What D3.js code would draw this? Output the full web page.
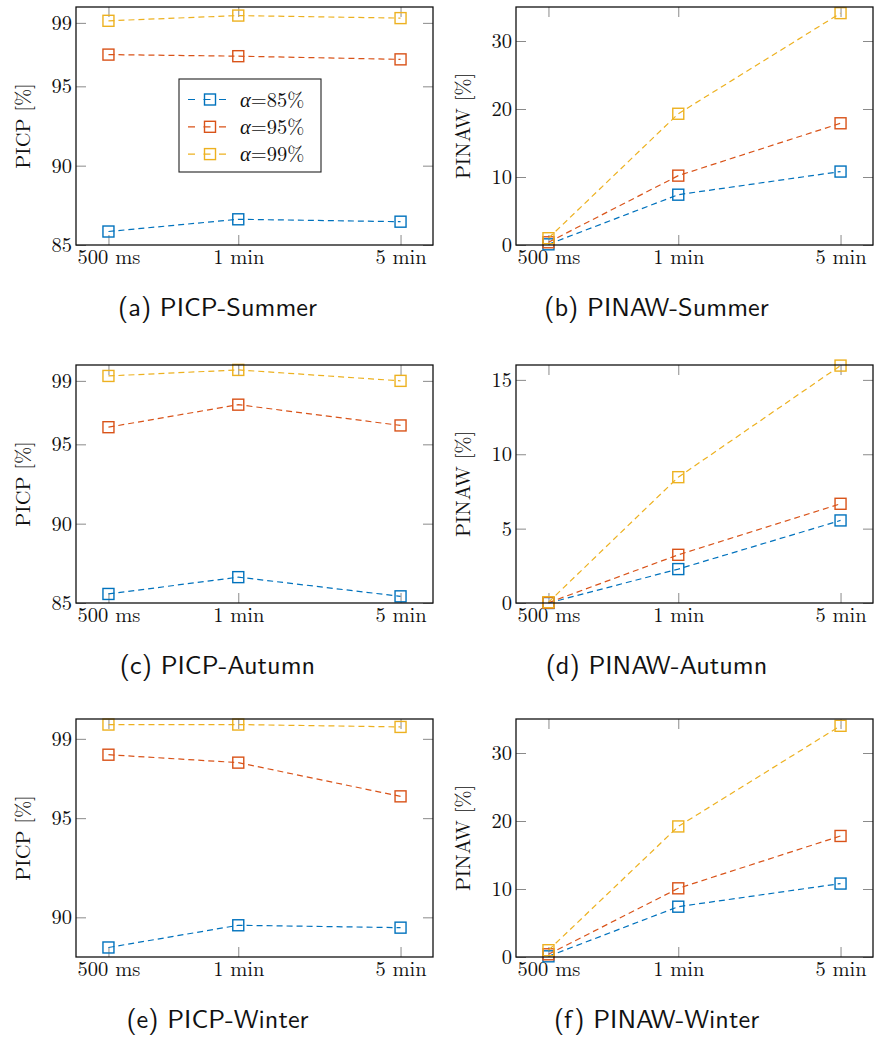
<!DOCTYPE html>
<html>
<head>
<meta charset="utf-8">
<script src="https://cdn.jsdelivr.net/npm/d3@7"></script>
</head>
<body style="margin:0;background:#fff">
<svg id="chart" width="875" height="1040"></svg>
<script>
// categories on the x axis (horizon) and their x positions
const horizons = ["500 ms", "1 min", "5 min"];
const xValues = [1, 2, 3.25];
const seriesNames = ["85%", "95%", "99%"];
const colors = ["#0072BD", "#D95319", "#EDB120"];

// series: [alpha=85%, alpha=95%, alpha=99%]
const picpSummer = [[85.85, 86.62, 86.47], [97.0, 96.9, 96.7], [99.13, 99.46, 99.3]];
const pinawSummer = [[0.1, 7.4, 10.8], [0.4, 10.2, 17.9], [1.0, 19.3, 34.1]];
const picpAutumn = [[85.57, 86.63, 85.42], [96.08, 97.5, 96.19], [99.31, 99.69, 99.0]];
const pinawAutumn = [[0.0, 2.28, 5.55], [0.02, 3.24, 6.67], [0.05, 8.46, 15.96]];
const picpWinter = [[88.48, 89.6, 89.48], [98.2, 97.8, 96.1], [99.72, 99.72, 99.6]];
const pinawWinter = [[0.1, 7.4, 10.8], [0.4, 10.1, 17.8], [1.0, 19.2, 34.0]];

const picpTicks = [85, 90, 95, 99];
const picpWinterTicks = [90, 95, 99];
const pinawTicks = [0, 10, 20, 30];
const pinawAutumnTicks = [0, 5, 10, 15];

const panels = [
  {cap: "(a) PICP-Summer", ylab: "PICP [%]", data: picpSummer, dom: [85, 100], ticks: picpTicks, col: 0, row: 0, legend: true},
  {cap: "(b) PINAW-Summer", ylab: "PINAW [%]", data: pinawSummer, dom: [0, 35], ticks: pinawTicks, col: 1, row: 0},
  {cap: "(c) PICP-Autumn", ylab: "PICP [%]", data: picpAutumn, dom: [85, 100], ticks: picpTicks, col: 0, row: 1},
  {cap: "(d) PINAW-Autumn", ylab: "PINAW [%]", data: pinawAutumn, dom: [0, 16], ticks: pinawAutumnTicks, col: 1, row: 1},
  {cap: "(e) PICP-Winter", ylab: "PICP [%]", data: picpWinter, dom: [88, 100], ticks: picpWinterTicks, col: 0, row: 2},
  {cap: "(f) PINAW-Winter", ylab: "PINAW [%]", data: pinawWinter, dom: [0, 35], ticks: pinawTicks, col: 1, row: 2}
];

const colX = [76, 516];
const rowY = [7, 365, 719];
const W = 357, H = 238;
const capCenter = [217.5, 656.5];
const serif = '"Latin Modern Roman", "Liberation Serif", serif';
const sans = '"Latin Modern Sans", Lato, sans-serif';

const svg = d3.select("#chart");
const x = d3.scaleLinear().domain([0.75, 3.5]).range([0, W]);

const serifText = s => s.style("font-family", serif).style("font-size", "20.5px").attr("fill", "#111");

panels.forEach(p => {
  const g = svg.append("g").attr("transform", `translate(${colX[p.col]},${rowY[p.row]})`);
  const y = d3.scaleLinear().domain(p.dom).range([H, 0]);

  const styleAxis = a => {
    a.attr("font-family", null).attr("font-size", null);
    a.select(".domain").remove();
    a.selectAll(".tick line").attr("stroke", "#8a8a8a").attr("stroke-width", 1);
    a.selectAll(".tick text").call(serifText);
  };

  g.append("g").attr("transform", `translate(0,${H})`)
    .call(d3.axisBottom(x).tickValues(xValues).tickFormat((d, i) => horizons[i]).tickSize(-10).tickPadding(4))
    .call(styleAxis);
  g.append("g")
    .call(d3.axisTop(x).tickValues(xValues).tickFormat("").tickSize(-10))
    .call(styleAxis);
  g.append("g")
    .call(d3.axisLeft(y).tickValues(p.ticks).tickSize(-10).tickPadding(4))
    .call(styleAxis);
  g.append("g").attr("transform", `translate(${W},0)`)
    .call(d3.axisRight(y).tickValues(p.ticks).tickFormat("").tickSize(-10))
    .call(styleAxis);

  const line = d3.line().x((d, i) => x(xValues[i])).y(d => y(d));

  p.data.forEach((s, k) => {
    g.append("path")
      .datum(s)
      .attr("d", line)
      .attr("fill", "none")
      .attr("stroke", colors[k])
      .attr("stroke-width", 1.2)
      .attr("stroke-dasharray", "6,4");
    g.selectAll(null)
      .data(s)
      .enter().append("rect")
      .attr("x", (d, i) => x(xValues[i]) - 5.5)
      .attr("y", d => y(d) - 5.5)
      .attr("width", 11)
      .attr("height", 11)
      .attr("fill", "none")
      .attr("stroke", colors[k])
      .attr("stroke-width", 1.4);
  });

  g.append("rect")
    .attr("width", W).attr("height", H)
    .attr("fill", "none").attr("stroke", "#111").attr("stroke-width", 1.3);

  g.append("text")
    .attr("transform", `translate(-46,${H / 2}) rotate(-90)`)
    .attr("text-anchor", "middle")
    .call(serifText)
    .text(p.ylab);

  svg.append("text")
    .attr("x", capCenter[p.col])
    .attr("y", rowY[p.row] + H + 71)
    .attr("text-anchor", "middle")
    .style("font-family", sans)
    .style("font-size", "26.3px")
    .attr("fill", "#111")
    .text(p.cap);

  if (p.legend) {
    const lg = g.append("g").attr("transform", "translate(103,72)");
    lg.append("rect").attr("width", 142).attr("height", 93)
      .attr("fill", "#fff").attr("stroke", "#222").attr("stroke-width", 1.1);
    seriesNames.forEach((name, k) => {
      const row = lg.append("g").attr("transform", `translate(0,${20.5 + k * 27.3})`);
      row.append("line").attr("x1", 9).attr("x2", 50).attr("y1", 0).attr("y2", 0)
        .attr("stroke", colors[k]).attr("stroke-width", 1.2).attr("stroke-dasharray", "7,8.5");
      row.append("rect").attr("x", 25.5).attr("y", -5.5).attr("width", 11).attr("height", 11)
        .attr("fill", "none").attr("stroke", colors[k]).attr("stroke-width", 1.4);
      const t = row.append("text").attr("x", 61).attr("y", 7).call(serifText);
      t.append("tspan").style("font-style", "italic").text("α");
      t.append("tspan").text("=" + name);
    });
  }
});
</script>
</body>
</html>
